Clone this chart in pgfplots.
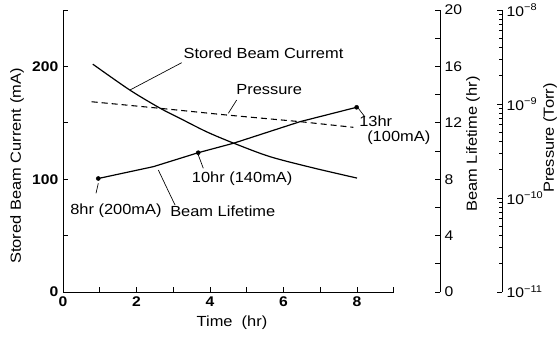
\documentclass[border=0pt]{standalone}
\usepackage{pgfplots}
\pgfplotsset{compat=1.18}
\usepackage{fontspec}
\setmainfont{Liberation Sans}[FakeStretch=1.12]
\newcommand\lbl{\fontsize{11pt}{13pt}\selectfont}
\begin{document}
\begin{tikzpicture}
\pgfplotsset{
  geom/.style={at={(47.25pt,33pt)}, anchor=south west, scale only axis,
    width=248.06pt, height=211.5pt, xmin=0, xmax=9},
}
% main axis (mA)
\begin{axis}[geom,
  ymin=0, ymax=250,
  axis x line*=bottom, axis y line*=left,
  axis line style={-, line width=0.7pt},
  tick align=inside, major tick length=3.5pt,
  tick style={line width=0.6pt, black},
  xtick={0,1,...,9}, xticklabels={0,,2,,4,,6,,8,},
  ytick={0,50,...,250}, yticklabels={0,,100,,200,},
  ticklabel style={font=\fontsize{10.5pt}{12pt}\selectfont\bfseries},
  minor tick num=0,
]
\addplot[black, line width=0.9pt, smooth] coordinates {
 (0.81,202) (1.82,179) (2.64,163) (3.18,154) (3.91,142) (4.64,132) (5.63,120) (6.81,110) (8.0,101)};
\end{axis}
% lifetime data (hidden)
\begin{axis}[geom, hide axis, ymin=0, ymax=20]
\addplot[black, line width=0.9pt] coordinates {
 (0.96,8.05) (2.46,8.89) (3.68,9.88) (4.64,10.55) (6.45,12.08) (7.99,13.1)};
\addplot[only marks, mark=*, mark size=1.5pt, black] coordinates {
 (0.96,8.05) (3.68,9.88) (7.99,13.1)};
\end{axis}
% pressure data (hidden)
\begin{axis}[geom, hide axis, ymode=log, ymin=1e-11, ymax=1e-8]
\addplot[black, line width=0.8pt, dash pattern=on 4.5pt off 3pt] coordinates {
 (0.78,1.057e-9) (2.64,9.0e-10) (4.45,7.64e-10) (6.45,6.49e-10) (7.90,5.65e-10)};
\end{axis}
% lifetime axis
\begin{axis}[at={(330pt,33pt)}, anchor=south east, scale only axis,
  width=10pt, height=211.5pt, xmin=0, xmax=1, ymin=0, ymax=20,
  axis x line=none, axis y line*=right, xtick=\empty,
  axis line style={-, line width=0.7pt},
  tick align=inside, major tick length=3.5pt,
  tick style={line width=0.6pt, black},
  ytick={0,2,...,20}, yticklabels={0,,4,,8,,12,,16,,20},
  ticklabel style={font=\fontsize{10.5pt}{12pt}\selectfont},
]
\end{axis}
% pressure axis
\begin{axis}[at={(376.5pt,33pt)}, anchor=south east, scale only axis,
  width=10pt, height=211.5pt, xmin=0, xmax=1, ymode=log, ymin=1e-11, ymax=1e-8,
  axis x line=none, axis y line*=right, xtick=\empty,
  axis line style={-, line width=0.7pt},
  tick align=inside, major tick length=3.5pt, minor tick length=2pt,
  tick style={line width=0.6pt, black},
  ytick={1e-11,1e-10,1e-9,1e-8},
  yticklabels={10\textsuperscript{−11},10\textsuperscript{−10},10\textsuperscript{−9},10\textsuperscript{−8}},
  minor ytick={2e-11,3e-11,4e-11,5e-11,6e-11,7e-11,8e-11,9e-11,
               2e-10,3e-10,4e-10,5e-10,6e-10,7e-10,8e-10,9e-10,
               2e-9,3e-9,4e-9,5e-9,6e-9,7e-9,8e-9,9e-9},
  ticklabel style={font=\fontsize{10.5pt}{12pt}\selectfont},
]
\end{axis}
% annotations in pixel coordinates (y down)
\begin{scope}[x=0.75pt, y=-0.75pt, yshift=252pt, every node/.style={inner sep=0pt, font=\lbl}]
\node at (263.5,53) {Stored Beam Curremt};
\draw[line width=0.5pt] (130,90) -- (181.7,62.7);
\node at (269.2,90) {Pressure};
\draw[line width=0.5pt] (228.3,113.3) -- (236.7,100);
\node[anchor=west] at (359,121.7) {13hr};
\node[anchor=west] at (367,138) {(100mA)};
\draw[line width=0.5pt] (358.3,108.3) -- (365,117);
\node[anchor=west] at (191.7,178.3) {10hr (140mA)};
\draw[line width=0.5pt] (198.3,155) -- (203.3,168.3);
\node[anchor=west] at (70,211) {8hr (200mA)};
\draw[line width=0.5pt] (98.3,183.3) -- (96,193.3);
\node[anchor=west] at (170,211.7) {Beam Lifetime};
\draw[line width=0.5pt] (158.3,170) -- (175,205);
\node[rotate=90] at (17,166) {Stored Beam Current (mA)};
\node at (232,323) {Time\ \ (hr)};
\node[rotate=90] at (473,144) {Beam Lifetime (hr)};
\node[rotate=90] at (550,138) {Pressure (Torr)};
\end{scope}
\pgfresetboundingbox
\path[use as bounding box] (0,0) rectangle (420pt,252pt);
\end{tikzpicture}
\end{document}
